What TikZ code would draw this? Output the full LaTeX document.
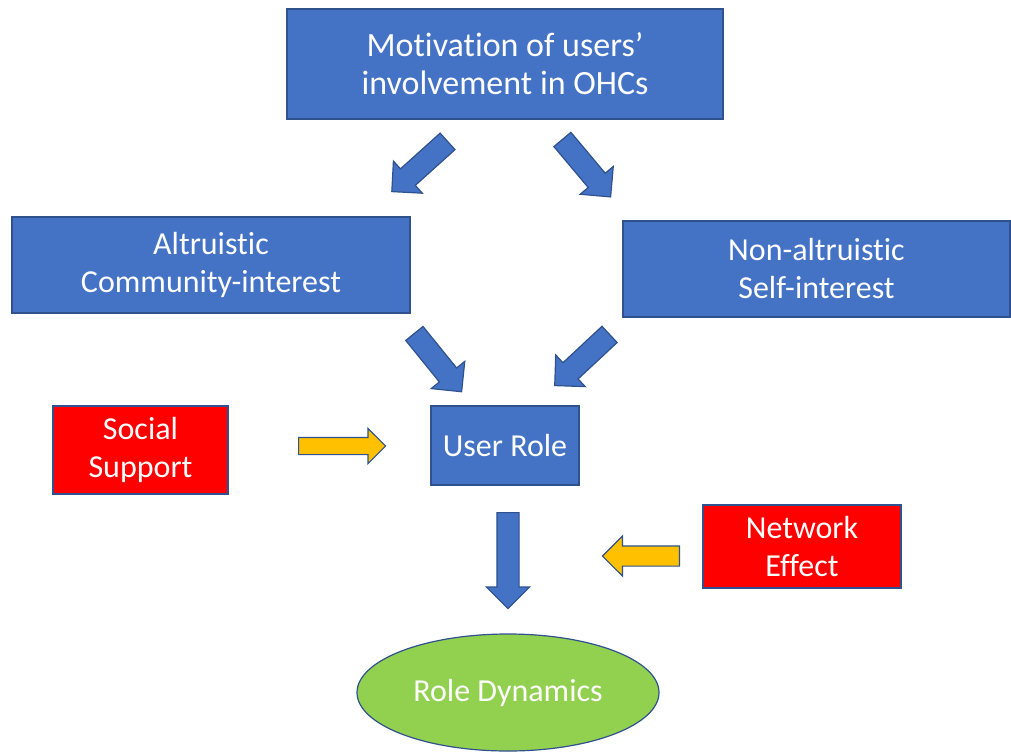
\documentclass[tikz,border=0pt]{standalone}
\usepackage{fontspec}
\setmainfont{Carlito}[Ligatures=NoCommon]
\usetikzlibrary{shapes.geometric,shapes.arrows}

\definecolor{boxblue}{HTML}{4472C4}
\definecolor{edgeblue}{HTML}{2F528F}
\definecolor{boxred}{HTML}{FF0000}
\definecolor{arrowgold}{HTML}{FFC000}
\definecolor{leafgreen}{HTML}{92D050}

\begin{document}
\begin{tikzpicture}[x=0.5pt, y=-0.5pt, line width=0.6pt,
    box/.style = {draw=edgeblue, fill=boxblue, text=white, align=center, inner sep=0pt, font=\fontsize{16}{19}\selectfont},
    redbox/.style = {box, fill=boxred},
    bluearrow/.style = {single arrow, draw=edgeblue, fill=boxblue, inner xsep=0pt, inner ysep=5.25pt, anchor=tail,
      single arrow head extend=5.25pt, minimum height=37.5pt},
    goldarrow/.style = {single arrow, draw=edgeblue, fill=arrowgold, inner xsep=0pt, anchor=tail}]
  \useasboundingbox (0,0) rectangle (1011,755);

  \node[box, font=\fontsize{17}{19}\selectfont, minimum width=218pt, minimum height=55pt] (motiv) at (505,64) {Motivation of users'\\involvement in OHCs};
  \node[box, minimum width=199pt, minimum height=48pt] (altru) at (211,265) {Altruistic\\Community-interest};
  \node[box, minimum width=193.5pt, minimum height=48pt] (self) at (816.5,269) {Non-altruistic\\Self-interest};
  \node[box, minimum width=74pt, minimum height=39.5pt] (role) at (505,445.5) {User Role};
  \node[redbox, minimum width=87.5pt, minimum height=44pt] (social) at (140.5,450) {Social\\Support};
  \node[redbox, minimum width=99pt, minimum height=41.5pt] (network) at (802,546.5) {Network\\Effect};
  \node[box, ellipse, fill=leafgreen, minimum width=151pt, minimum height=58.5pt] (dyn) at (508,692.5) {Role Dynamics};

  % block arrows
  \node[bluearrow, rotate=-138] (a1) at (448,141) {};
  \node[bluearrow, rotate=-50] (a2) at (562,139) {};
  \node[bluearrow, rotate=-51] (a3) at (414,333) {};
  \node[bluearrow, rotate=-137] (a4) at (610,334) {};
  \node[bluearrow, rotate=-90, minimum height=48pt] (a5) at (508,512) {};
  \node[goldarrow, inner ysep=4pt, single arrow head extend=4.5pt, minimum height=43.5pt] (a6) at (298,446) {};
  \node[goldarrow, rotate=180, inner ysep=4.75pt, single arrow head extend=5pt, minimum height=38.5pt] (a7) at (680,556) {};
\end{tikzpicture}
\end{document}
